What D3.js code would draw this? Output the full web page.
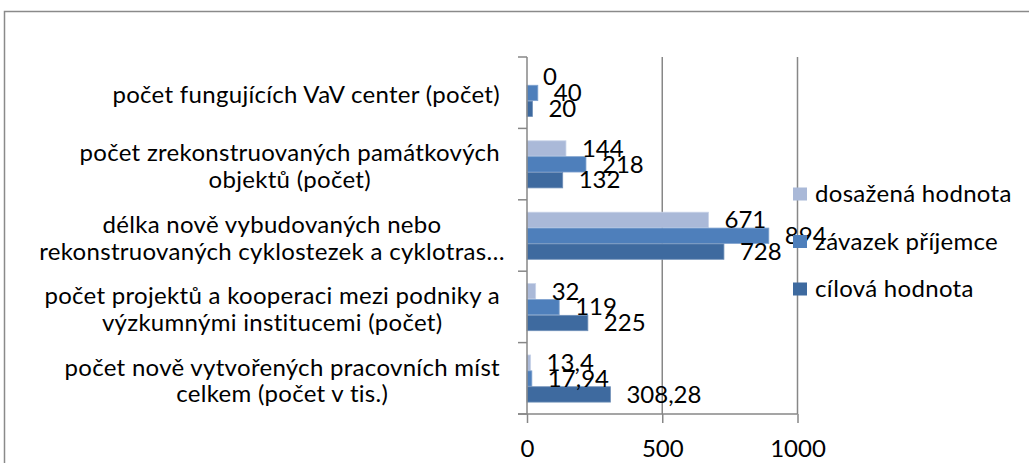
<!DOCTYPE html>
<html><head><meta charset="utf-8">
<script src="https://cdn.jsdelivr.net/npm/d3@7/dist/d3.min.js"></script>
<style>
html,body{margin:0;padding:0;background:#fff;}
svg text{font-family:Lato,"Open Sans",sans-serif;fill:#000;}
</style></head>
<body>
<svg id="chart" width="1029" height="463"></svg>
<script>
// ---- data ----
const categories = [
  ["počet fungujících VaV center (počet)"],
  ["počet zrekonstruovaných památkových", "objektů (počet)"],
  ["délka nově vybudovaných nebo", "rekonstruovaných cyklostezek a cyklotras…"],
  ["počet projektů a kooperaci mezi podniky a", "výzkumnými institucemi (počet)"],
  ["počet nově vytvořených pracovních míst", "celkem (počet v tis.)"]
];
const seriesNames = ["dosažená hodnota", "závazek příjemce", "cílová hodnota"];
const dosazena = [0, 144, 671, 32, 13.4];
const zavazek = [40, 218, 894, 119, 17.94];
const cilova = [20, 132, 728, 225, 308.28];
const xTicks = [0, 500, 1000];
const colors = ["#AAB9D8", "#4E7FBB", "#3E6A9F"];
const edgeColors = ["#c8d3e8", "#7fa2cf", "#6f8fb8"];

const series = [dosazena, zavazek, cilova];

// ---- layout ----
const svg = d3.select("#chart");
const fontSize = 24;
const spacing = 0.3;
const plotL = 527, plotR = 797.5, plotT = 57, plotB = 414;

svg.append("rect").attr("x", 0).attr("y", 0).attr("width", 1029).attr("height", 463).attr("fill", "#fff");
svg.append("rect").attr("x", 4.5).attr("y", 11.5).attr("width", 1100).attr("height", 500)
  .attr("fill", "none").attr("stroke", "#8a8a8a").attr("stroke-width", 1.5);

const x = d3.scaleLinear().domain([0, 1000]).range([plotL, plotR]);
const y = d3.scaleBand().domain(d3.range(categories.length)).range([plotT, plotB]).padding(0);
const groupFrac = 2 / 3; // gap width 150%
const yInner = d3.scaleBand().domain(d3.range(series.length))
  .range([0, y.bandwidth() * groupFrac]).padding(0);
const groupOffset = y.bandwidth() * (1 - groupFrac) / 2;

// gridlines
svg.append("g").selectAll("line").data(xTicks.filter(t => t > 0)).join("line")
  .attr("x1", d => x(d)).attr("x2", d => x(d))
  .attr("y1", plotT).attr("y2", plotB)
  .attr("stroke", "#878787").attr("stroke-width", 1.5);

// bars
const gBars = svg.append("g");
series.forEach((vals, si) => {
  gBars.selectAll(null).data(vals).join("rect")
    .attr("x", x(0))
    .attr("y", (d, i) => y(i) + groupOffset + yInner(si) + 0.5)
    .attr("width", d => Math.max(0, x(d) - x(0)))
    .attr("height", yInner.bandwidth() - 0.5)
    .attr("fill", colors[si])
    .attr("stroke", d => d > 0 ? edgeColors[si] : "none")
    .attr("stroke-width", 0.8);
});

// vertical (category) axis
const gy = svg.append("g");
gy.append("line").attr("x1", plotL).attr("x2", plotL).attr("y1", plotT).attr("y2", plotB)
  .attr("stroke", "#878787").attr("stroke-width", 1.5);
gy.selectAll("line.tk").data(d3.range(categories.length + 1)).join("line").attr("class", "tk")
  .attr("x1", plotL - 9).attr("x2", plotL)
  .attr("y1", i => i < categories.length ? y(i) : plotB)
  .attr("y2", i => i < categories.length ? y(i) : plotB)
  .attr("stroke", "#878787").attr("stroke-width", 1.5);

// horizontal (value) axis
const xAxis = d3.axisBottom(x).tickValues(xTicks).tickFormat(d3.format("d"))
  .tickSize(9).tickSizeOuter(0).tickPadding(17);
const gx = svg.append("g").attr("transform", `translate(0,${plotB})`).call(xAxis);
gx.select(".domain").attr("stroke", "#878787").attr("stroke-width", 1.5).attr("d", `M${plotL - 9},0H${plotR}`);
gx.selectAll(".tick line").attr("stroke", "#878787").attr("stroke-width", 1.5);
gx.selectAll(".tick text").attr("font-size", fontSize).attr("font-family", "Lato, 'Open Sans', sans-serif").attr("fill", "#000");

// category labels
const lineH = 26.7;
categories.forEach((lines, i) => {
  const cy = y(i) + y.bandwidth() / 2;
  const g = svg.append("g");
  const texts = lines.map((ln, k) => g.append("text")
    .attr("y", cy + 10.7 + (k - (lines.length - 1) / 2) * lineH)
    .attr("font-size", fontSize).attr("letter-spacing", spacing)
    .attr("text-anchor", "middle").text(ln));
  const w = d3.max(texts, t => t.node().getComputedTextLength());
  const cx = Math.max(500 - w / 2, 272);
  texts.forEach(t => t.attr("x", cx));
});

// data labels
const fmt = v => String(v).replace(".", ",");
series.forEach((vals, si) => {
  svg.append("g").selectAll("text").data(vals).join("text")
    .attr("x", d => x(d) + 16)
    .attr("y", (d, i) => y(i) + groupOffset + yInner(si) + yInner.bandwidth() / 2 + 8.5)
    .attr("font-size", fontSize)
    .text(d => fmt(d));
});

// legend
const legend = svg.append("g");
seriesNames.forEach((name, si) => {
  const ly = 194 + si * 47.5;
  legend.append("rect").attr("x", 793).attr("y", ly - 6.5).attr("width", 14).attr("height", 13)
    .attr("fill", colors[si]);
  legend.append("text").attr("x", 815).attr("y", ly + 8).attr("font-size", fontSize)
    .attr("letter-spacing", spacing).text(name);
});
</script>
</body></html>
